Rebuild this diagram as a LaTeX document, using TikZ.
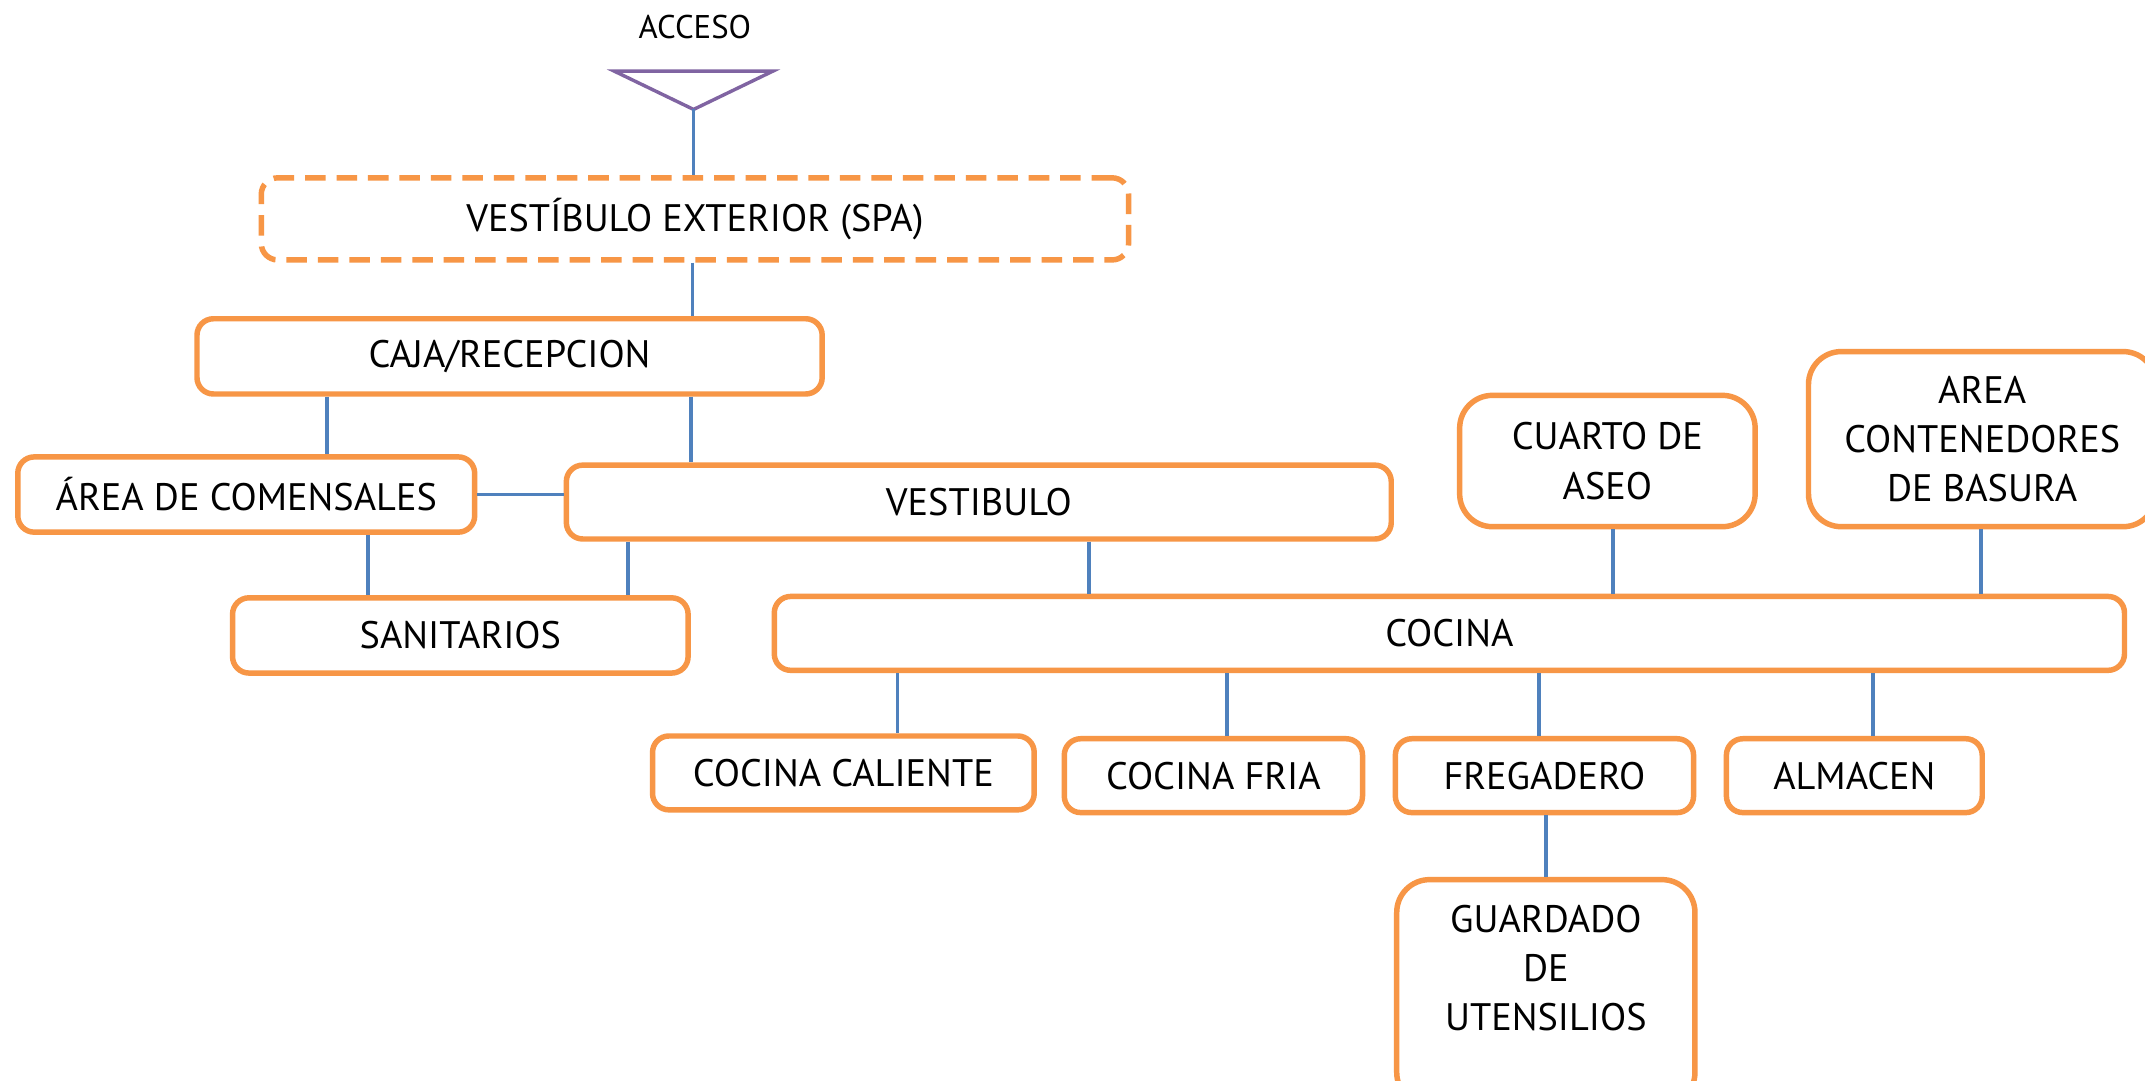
\documentclass[tikz,border=0pt]{standalone}
\usepackage{fontspec}
\setmainfont{PT Sans}
\definecolor{roomorange}{HTML}{F79646}
\definecolor{linkblue}{HTML}{4F81BD}
\definecolor{gatepurple}{HTML}{8064A2}
\tikzset{
  room/.style={draw=roomorange, line width=4pt, rounded corners=12pt, fill=white,
    minimum height=55pt, inner sep=0pt, align=center,
    font=\fontsize{28}{36}\selectfont},
  bigroom/.style={room, rounded corners=24pt},
  outerroom/.style={room, dash pattern=on 15pt off 8pt},
  link/.style={draw=linkblue, line width=2.5pt},
}
\begin{document}
\begin{tikzpicture}[x=1pt,y=-1pt]
% page frame, in pixels of the reference
\fill[white] (0,0) rectangle (1568,790);
\useasboundingbox (0,0) rectangle (1568,790);

% access mark
\node[font=\fontsize{24}{28}\selectfont] (acceso) at (508,20) {ACCESO};
\coordinate (apex) at (507,80);
\draw[gatepurple, line width=2.5pt, line join=miter] (449,52) -- (565,52) -- (apex) -- cycle;

% rooms
\node[outerroom, minimum width=634pt, minimum height=60pt] (ext) at (508,160) {VESTÍBULO EXTERIOR (SPA)};
\node[room, minimum width=457pt] (caja) at (372.5,260.5) {CAJA/RECEPCION};
\node[room, minimum width=334pt] (area) at (180,361.5) {ÁREA DE COMENSALES};
\node[room, minimum width=603pt, minimum height=54pt] (vest) at (715.5,367) {VESTIBULO};
\node[room, minimum width=333pt] (sanit) at (336.5,464.5) {SANITARIOS};
\node[bigroom, minimum width=216pt, minimum height=96pt] (aseo) at (1175,337) {CUARTO DE\\ASEO};
\node[bigroom, minimum width=254pt, minimum height=128pt] (basura) at (1449,321) {AREA\\CONTENEDORES\\DE BASURA};
\node[room, minimum width=987pt, minimum height=54pt] (cocina) at (1059.5,463) {COCINA};
\node[room, minimum width=279pt, minimum height=54pt] (caliente) at (616.5,565) {COCINA CALIENTE};
\node[room, minimum width=218pt, minimum height=54pt] (fria) at (887,567) {COCINA FRIA};
\node[room, minimum width=218pt, minimum height=54pt] (freg) at (1129,567) {FREGADERO};
\node[room, minimum width=187pt, minimum height=54pt] (almacen) at (1355.5,567) {ALMACEN};
\node[bigroom, minimum width=218pt, minimum height=165pt] (guardado) at (1130,725.5) {GUARDADO\\DE\\UTENSILIOS\\ };

% links
\draw[link] (apex) -- (apex |- ext.north);
\draw[link] (506,0 |- ext.south) -- (506,0 |- caja.north);
\draw[link] (239,0 |- caja.south) -- (239,0 |- area.north);
\draw[link] (505,0 |- caja.south) -- (505,0 |- vest.north);
\draw[link] (area.east) -- (area.east -| vest.west);
\draw[link] (269,0 |- area.south) -- (269,0 |- sanit.north);
\draw[link] (459,0 |- vest.south) -- (459,0 |- sanit.north);
\draw[link] (796,0 |- vest.south) -- (796,0 |- cocina.north);
\draw[link] (1179,0 |- aseo.south) -- (1179,0 |- cocina.north);
\draw[link] (1448,0 |- basura.south) -- (1448,0 |- cocina.north);
\draw[link] (656,0 |- cocina.south) -- (656,0 |- caliente.north);
\draw[link] (897,0 |- cocina.south) -- (897,0 |- fria.north);
\draw[link] (1125,0 |- cocina.south) -- (1125,0 |- freg.north);
\draw[link] (1369,0 |- cocina.south) -- (1369,0 |- almacen.north);
\draw[link] (1130,0 |- freg.south) -- (1130,0 |- guardado.north);
\end{tikzpicture}
\end{document}
